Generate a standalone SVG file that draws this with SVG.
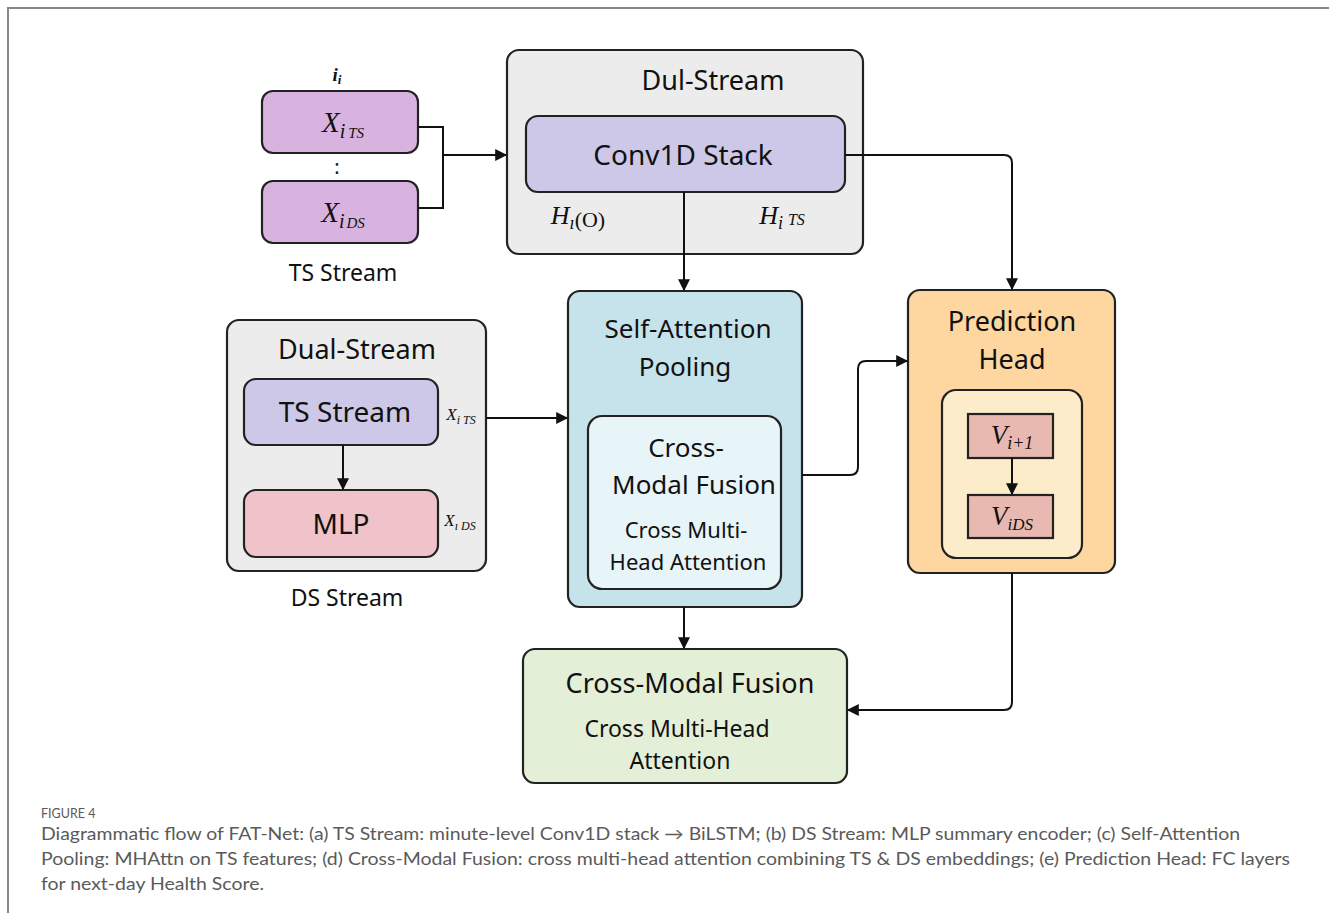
<svg xmlns="http://www.w3.org/2000/svg" width="1329" height="915" viewBox="0 0 1329 915">
<defs>
<marker id="ah" viewBox="0 0 10 10" refX="9" refY="5" markerWidth="13" markerHeight="12" markerUnits="userSpaceOnUse" orient="auto">
<path d="M0,0 L10,5 L0,10 z" fill="#111"/>
</marker>
<style>
.box{stroke:#222;stroke-width:2.2}
.t{font-family:"Noto Sans","Open Sans",sans-serif;fill:#111;text-anchor:middle}
.m{font-family:"Liberation Serif","DejaVu Serif",serif;font-style:italic;fill:#111;text-anchor:middle}
.c{fill:none;stroke:#111;stroke-width:2}
.cap{font-family:Lato,"Open Sans",sans-serif;fill:#5a5a5a}
</style>
</defs>
<rect width="1329" height="915" fill="#fff"/>
<path d="M8,913 L8,8 L1329,8" fill="none" stroke="#888" stroke-width="2"/>

<g id="ts-inputs">
<text class="m" x="337" y="81" font-size="19" font-weight="bold">i<tspan font-size="13" dy="3">i</tspan></text>
<rect class="box" x="262" y="91" width="156" height="62" rx="11" fill="#d9b3df"/>
<text class="m" x="343" y="132" font-size="29">X<tspan font-size="20" dy="6">i</tspan><tspan font-size="15" dx="3">TS</tspan></text>
<text class="t" x="337" y="174" font-size="20">:</text>
<rect class="box" x="262" y="181" width="156" height="62" rx="11" fill="#d9b3df"/>
<text class="m" x="343" y="222" font-size="29">X<tspan font-size="20" dy="6">i</tspan><tspan font-size="15" dx="2">DS</tspan></text>
<text class="t" x="343" y="281" font-size="23">TS Stream</text>
</g>

<g id="dul-stream">
<rect class="box" x="507" y="50" width="356" height="204" rx="12" fill="#ececec"/>
<text class="t" x="713" y="90" font-size="27">Dul-Stream</text>
<rect class="box" x="526" y="116" width="319" height="76" rx="12" fill="#cdc8e8"/>
<text class="t" x="683" y="165" font-size="28">Conv1D Stack</text>
<text class="m" x="578" y="224" font-size="26">H<tspan font-size="18" dy="5">ı</tspan><tspan font-size="22" font-style="normal" dy="-2">(O)</tspan></text>
<text class="m" x="782" y="224" font-size="26">H<tspan font-size="18" dy="5">i</tspan><tspan font-size="16" dx="5" dy="-4">TS</tspan></text>
</g>

<g id="dual-stream">
<rect class="box" x="227" y="320" width="259" height="251" rx="12" fill="#ececec"/>
<text class="t" x="357" y="359" font-size="27">Dual-Stream</text>
<rect class="box" x="244" y="379" width="194" height="66" rx="12" fill="#cdc8e8"/>
<text class="t" x="345" y="422" font-size="28">TS Stream</text>
<rect class="box" x="244" y="490" width="194" height="67" rx="12" fill="#f0c2ca"/>
<text class="t" x="341" y="534" font-size="28">MLP</text>
<text class="m" x="461" y="420" font-size="17">X<tspan font-size="12" dy="4">i TS</tspan></text>
<text class="m" x="460" y="526" font-size="17">X<tspan font-size="12" dy="4">ı DS</tspan></text>
<text class="t" x="347" y="606" font-size="23">DS Stream</text>
</g>

<g id="self-attention">
<rect class="box" x="568" y="291" width="234" height="316" rx="12" fill="#c6e2ea"/>
<text class="t" x="688" y="338" font-size="26">Self-Attention</text>
<text class="t" x="685" y="376" font-size="26">Pooling</text>
<rect class="box" x="588" y="416" width="193" height="173" rx="14" fill="#e7f4f8"/>
<text class="t" x="686" y="457" font-size="26">Cross-</text>
<text class="t" x="694" y="494" font-size="26">Modal Fusion</text>
<text class="t" x="686" y="538" font-size="22">Cross Multi-</text>
<text class="t" x="688" y="570" font-size="22">Head Attention</text>
</g>

<g id="prediction-head">
<rect class="box" x="908" y="290" width="207" height="283" rx="12" fill="#fdd6a0"/>
<text class="t" x="1012" y="331" font-size="27">Prediction</text>
<text class="t" x="1012" y="369" font-size="27">Head</text>
<rect class="box" x="942" y="390" width="140" height="168" rx="14" fill="#fdecca"/>
<rect class="box" x="968" y="414" width="85" height="44" fill="#e8b9b1"/>
<text class="m" x="1012" y="444" font-size="27">V<tspan font-size="18" dy="5">i+1</tspan></text>
<rect class="box" x="968" y="495" width="85" height="43" fill="#e8b9b1"/>
<text class="m" x="1012" y="525" font-size="27">V<tspan font-size="17" dy="5">iDS</tspan></text>
</g>

<g id="cross-modal-fusion">
<rect class="box" x="523" y="649" width="324" height="134" rx="12" fill="#e4efd8"/>
<text class="t" x="690" y="693" font-size="27">Cross-Modal Fusion</text>
<text class="t" x="677" y="737" font-size="23">Cross Multi-Head</text>
<text class="t" x="680" y="769" font-size="23">Attention</text>
</g>

<g id="connectors">
<path class="c" d="M418,127 L443,127 L443,208 L418,208"/>
<path class="c" d="M443,155 L506,155" marker-end="url(#ah)"/>
<path class="c" d="M684,192 L684,290" marker-end="url(#ah)"/>
<path class="c" d="M845,155 L1004,155 Q1012,155 1012,163 L1012,289" marker-end="url(#ah)"/>
<path class="c" d="M343,445 L343,489" marker-end="url(#ah)"/>
<path class="c" d="M486,418 L567,418" marker-end="url(#ah)"/>
<path class="c" d="M802,475 L850,475 Q858,475 858,467 L858,369 Q858,361 866,361 L907,361" marker-end="url(#ah)"/>
<path class="c" d="M1012,458 L1012,494" marker-end="url(#ah)"/>
<path class="c" d="M684,607 L684,648" marker-end="url(#ah)"/>
<path class="c" d="M1012,573 L1012,702 Q1012,710 1004,710 L848,710" marker-end="url(#ah)"/>
</g>

<g id="caption">
<text class="cap" x="41" y="818" font-size="12.5">FIGURE 4</text>
<text class="cap" x="41" y="840" font-size="17" textLength="1199" lengthAdjust="spacingAndGlyphs">Diagrammatic flow of FAT-Net: (a) TS Stream: minute-level Conv1D stack → BiLSTM; (b) DS Stream: MLP summary encoder; (c) Self-Attention</text>
<text class="cap" x="41" y="865" font-size="17" textLength="1249" lengthAdjust="spacingAndGlyphs">Pooling: MHAttn on TS features; (d) Cross-Modal Fusion: cross multi-head attention combining TS &amp; DS embeddings; (e) Prediction Head: FC layers</text>
<text class="cap" x="41" y="890" font-size="17" textLength="223" lengthAdjust="spacingAndGlyphs">for next-day Health Score.</text>
</g>
</svg>
